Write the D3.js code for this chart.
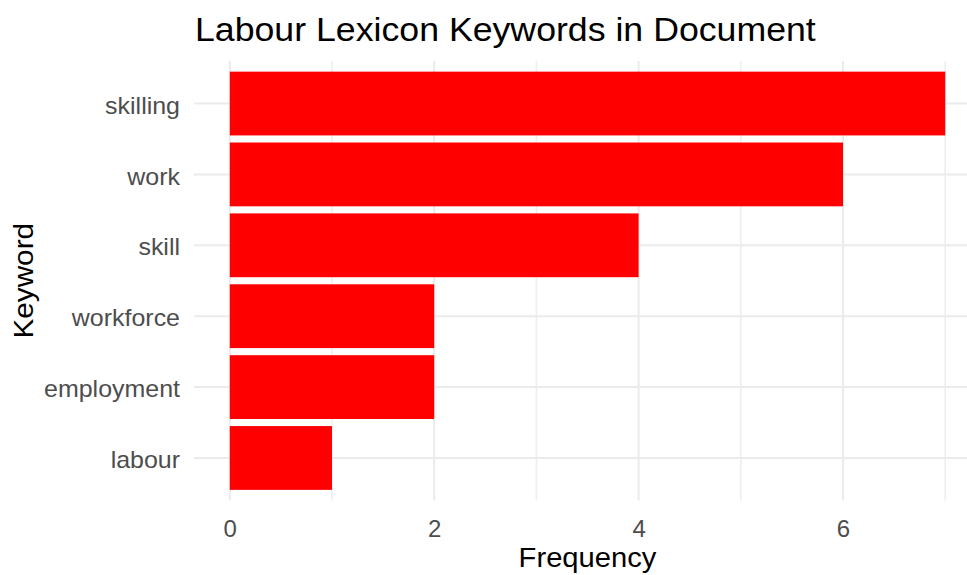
<!DOCTYPE html>
<html>
<head>
<meta charset="utf-8">
<script src="https://cdn.jsdelivr.net/npm/d3@7"></script>
<style>
  html, body { margin: 0; padding: 0; background: #ffffff; }
  svg { display: block; font-family: "Liberation Sans", Arial, sans-serif; }
</style>
</head>
<body>
<svg id="chart" width="967" height="575"></svg>
<script>
// Keyword counts, listed top to bottom as drawn
const keywords = ["skilling", "work", "skill", "workforce", "employment", "labour"];
const frequencies = [7, 6, 4, 2, 2, 1];
const majorTicks = [0, 2, 4, 6];
const minorTicks = [1, 3, 5, 7];

const titleText = "Labour Lexicon Keywords in Document";
const xTitle = "Frequency";
const yTitle = "Keyword";

const svg = d3.select("#chart");

// Panel area (right side runs past the visible canvas)
const panel = { left: 194, right: 981, top: 61, bottom: 500.5 };

// widen glyphs slightly along the text direction
function widen(sel, factor) {
  sel.each(function () {
    const len = this.getComputedTextLength();
    d3.select(this)
      .attr("textLength", len * factor)
      .attr("lengthAdjust", "spacingAndGlyphs");
  });
}

const x = d3.scaleLinear()
  .domain([-0.35, 7.35])
  .range([panel.left, panel.right]);

const y = d3.scaleBand()
  .domain(keywords)
  .range([panel.top, panel.bottom])
  .paddingInner(0.1)
  .paddingOuter(0.15);

const grid = svg.append("g").attr("class", "grid");

// minor vertical grid
grid.selectAll("line.minor")
  .data(minorTicks)
  .join("line")
  .attr("class", "minor")
  .attr("x1", d => x(d)).attr("x2", d => x(d))
  .attr("y1", panel.top).attr("y2", panel.bottom)
  .attr("stroke", "#EEEEEE").attr("stroke-width", 1.6);

// major vertical grid
grid.selectAll("line.major")
  .data(majorTicks)
  .join("line")
  .attr("class", "major")
  .attr("x1", d => x(d)).attr("x2", d => x(d))
  .attr("y1", panel.top).attr("y2", panel.bottom)
  .attr("stroke", "#EBEBEB").attr("stroke-width", 2);

// horizontal grid at each keyword
grid.selectAll("line.hz")
  .data(keywords)
  .join("line")
  .attr("class", "hz")
  .attr("x1", panel.left).attr("x2", panel.right)
  .attr("y1", d => y(d) + y.bandwidth() / 2)
  .attr("y2", d => y(d) + y.bandwidth() / 2)
  .attr("stroke", "#EBEBEB").attr("stroke-width", 2);

// bars
svg.append("g").selectAll("rect")
  .data(keywords.map((k, i) => ({ k, v: frequencies[i] })))
  .join("rect")
  .attr("x", x(0))
  .attr("y", d => y(d.k))
  .attr("width", d => x(d.v) - x(0))
  .attr("height", y.bandwidth())
  .attr("fill", "#FF0000");

// y axis labels
const yAxis = svg.append("g")
  .attr("transform", `translate(${panel.left},0)`)
  .call(d3.axisLeft(y).tickSize(0).tickPadding(14));
yAxis.select(".domain").remove();
yAxis.selectAll("text")
  .attr("dy", "0.42em")
  .attr("fill", "#4D4D4D")
  .style("font-size", "24px")
  .style("font-family", "'Liberation Sans', Arial, sans-serif")
  .call(widen, 1.04);

// x axis labels
const xAxis = svg.append("g")
  .attr("transform", `translate(0,${panel.bottom})`)
  .call(d3.axisBottom(x).tickValues(majorTicks).tickFormat(d3.format("d")).tickSize(0).tickPadding(19));
xAxis.select(".domain").remove();
xAxis.selectAll("text")
  .attr("fill", "#4D4D4D")
  .style("font-size", "24px")
  .style("font-family", "'Liberation Sans', Arial, sans-serif");

// title
svg.append("text")
  .attr("x", 195)
  .attr("y", 41)
  .attr("fill", "#000")
  .style("font-size", "33.5px")
  .text(titleText)
  .call(widen, 1.065);

// x axis title
svg.append("text")
  .attr("x", (panel.left + panel.right) / 2)
  .attr("y", 566.5)
  .attr("text-anchor", "middle")
  .attr("fill", "#000")
  .style("font-size", "27.5px")
  .text(xTitle)
  .call(widen, 1.06);

// y axis title
svg.append("text")
  .attr("transform", `translate(33,${(panel.top + panel.bottom) / 2}) rotate(-90)`)
  .attr("text-anchor", "middle")
  .attr("fill", "#000")
  .style("font-size", "27.5px")
  .text(yTitle)
  .call(widen, 1.08);
</script>
</body>
</html>
